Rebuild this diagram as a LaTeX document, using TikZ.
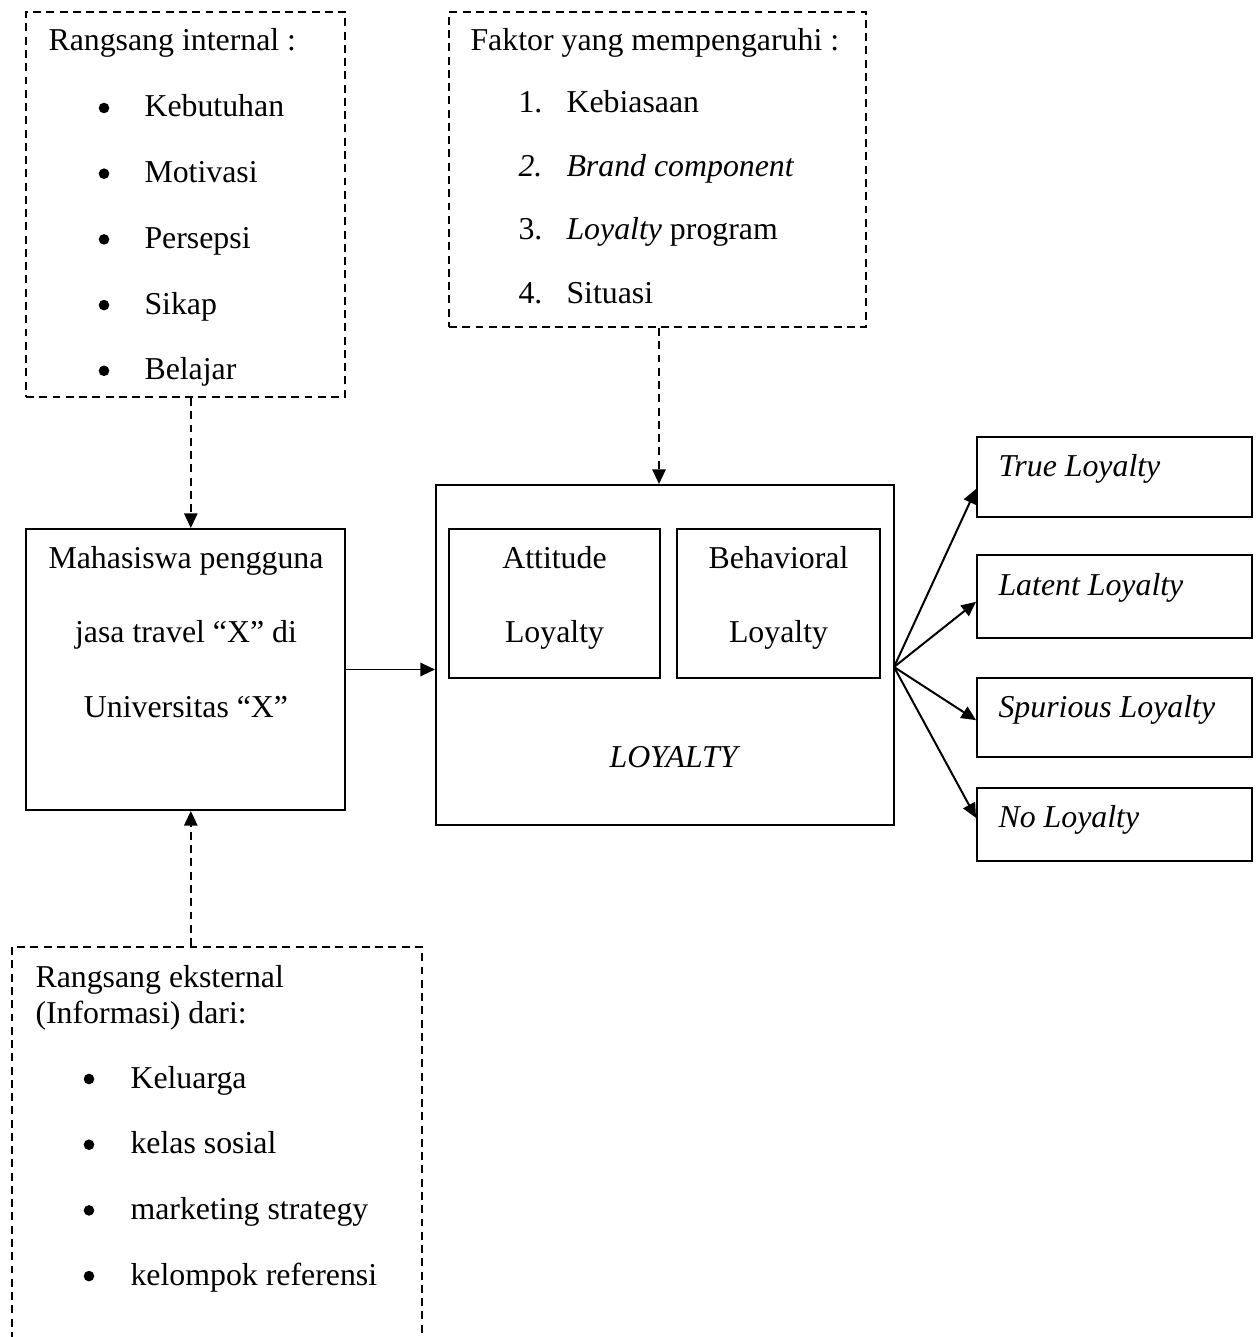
\documentclass[tikz,border=0pt]{standalone}
\usepackage{fontspec}
\setmainfont{Liberation Serif}
\usetikzlibrary{arrows.meta, positioning, fit}

\begin{document}
\begin{tikzpicture}[x=0.377pt, y=-0.377pt,
  font=\fontsize{12}{14}\selectfont,
  box/.style={draw, line width=0.75pt, inner sep=0pt},
  dbox/.style={box, dash pattern=on 3pt off 2pt},
  arrow/.style={-{Triangle[length=5.5pt, width=5pt]}, line width=0.75pt},
  darrow/.style={arrow, dash pattern=on 3pt off 2pt},
  txt/.style={anchor=base west, inner sep=0pt},
  ctxt/.style={anchor=base, inner sep=0pt},
  dot/.style={circle, fill, inner sep=0pt, minimum size=4pt}
]
  \useasboundingbox (0,0) rectangle (1258,1337);
  \clip (0,0) rectangle (1258,1337);

  % dashed boxes
  \node[dbox, fit={(26,12) (345,397)}] (intern) {};
  \node[dbox, fit={(449,12) (866,327)}] (faktor) {};
  \node[dbox, fit={(12,947) (422,1400)}] (ekstern) {};

  % solid boxes
  \node[box, fit={(26,529) (345,810)}] (mhs) {};
  \node[box, fit={(436,485) (894,825)}] (loyal) {};
  \node[box, fit={(449,529) (660,678)}] (att) {};
  \node[box, fit={(677,529) (880,678)}] (beh) {};
  \node[box, fit={(977,437) (1252,517)}] (true) {};
  \node[box, fit={(977,555) (1252,638)}] (latent) {};
  \node[box, fit={(977,678) (1252,757)}] (spur) {};
  \node[box, fit={(977,788) (1252,861)}] (noloy) {};

  % rangsang internal
  \node[txt] (inttitle) at (48,51) {Rangsang internal :};
  \foreach \t [count=\i] in {Kebutuhan, Motivasi, Persepsi, Sikap, Belajar} {
    \node[dot] (intb\i) at (104,{108+65.7*(\i-1)}) {};
    \node[txt] (int\i) at (144,{117+65.7*(\i-1)}) {\t};
  }

  % faktor
  \node[txt] (faktitle) at (470,51) {Faktor yang mempengaruhi :};
  \foreach \n/\t [count=\i] in {1./Kebiasaan, \textit{2.}/\textit{Brand component},
      3./\textit{Loyalty} program, 4./Situasi} {
    \node[txt] (fakn\i) at (518,{113+63.5*(\i-1)}) {\n};
    \node[txt] (fak\i) at (566,{113+63.5*(\i-1)}) {\t};
  }

  % mahasiswa
  \foreach \t [count=\i] in {Mahasiswa pengguna, jasa travel “X” di, Universitas “X”} {
    \node[ctxt] (mhs\i) at (186,{568+74.5*(\i-1)}) {\t};
  }

  % loyalty
  \node[ctxt] (att1) at (att.center |- 0,568) {Attitude};
  \node[ctxt] (att2) at (att.center |- 0,642) {Loyalty};
  \node[ctxt] (beh1) at (beh.center |- 0,568) {Behavioral};
  \node[ctxt] (beh2) at (beh.center |- 0,642) {Loyalty};
  \node[ctxt] (loytext) at (675,767) {\textit{LOYALTY}};

  \node[txt] (truetext) at (998,477) {\textit{True Loyalty}};
  \node[txt] (latenttext) at (998,595) {\textit{Latent Loyalty}};
  \node[txt] (spurtext) at (998,717) {\textit{Spurious Loyalty}};
  \node[txt] (notext) at (998,827) {\textit{No Loyalty}};

  % rangsang eksternal
  \node[txt] (ext1) at (35,987) {Rangsang eksternal};
  \node[txt] (ext2) at (35,1023) {(Informasi) dari:};
  \foreach \t [count=\i] in {Keluarga, kelas sosial, marketing strategy, kelompok referensi} {
    \node[dot] (extb\i) at (89,{1079+65.7*(\i-1)}) {};
    \node[txt] (ext\i) at (130,{1088+65.7*(\i-1)}) {\t};
  }

  % connectors
  \draw[darrow] ([xshift=2pt]intern.south) -- ([xshift=2pt]mhs.north);
  \draw[darrow] ([xshift=2pt]mhs.south |- ekstern.north) -- ([xshift=2pt]mhs.south);
  \draw[darrow] (faktor.south -| 659,0) -- (loyal.north -| 659,0);
  \draw[arrow] (mhs.east) -- (mhs.east -| loyal.west);

  \coordinate (fan) at (894,667);
  \draw[arrow] (fan) -- ([yshift=-4.5pt]true.west);
  \draw[arrow] (fan) -- ([yshift=-2pt]latent.west);
  \draw[arrow] (fan) -- ([yshift=-1pt]spur.west);
  \draw[arrow] (fan) -- ([yshift=2.5pt]noloy.west);
\end{tikzpicture}
\end{document}
